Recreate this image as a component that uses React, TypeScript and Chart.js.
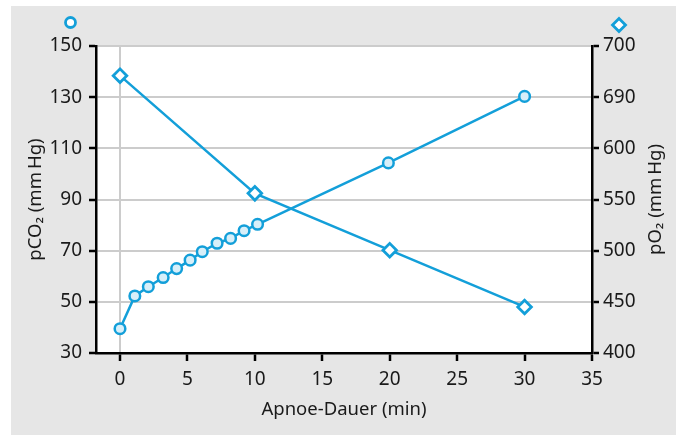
import { useEffect, useRef } from "react";
import { Chart, registerables } from "chart.js";

Chart.register(...registerables);

// Apnoe-Dauer (min) for pCO2 series
const timeCO2 = [0, 1.1, 2.1, 3.2, 4.2, 5.2, 6.1, 7.2, 8.2, 9.2, 10.2, 19.9, 30];
const pCO2 = [39.5, 52.3, 55.9, 59.5, 63.0, 66.3, 69.6, 72.9, 74.8, 77.8, 80.3, 104.3, 130.3];
// Apnoe-Dauer (min) for pO2 series
const timeO2 = [0, 10, 20, 30];
const pO2 = [671, 556, 500.5, 445];

const xTicks = [0, 5, 10, 15, 20, 25, 30, 35];
const leftTicks = [30, 50, 70, 90, 110, 130, 150];
const rightTicks = [400, 450, 500, 550, 600, 650, 700];
// labels as printed in the original figure
const rightTickLabels = ["400", "450", "500", "550", "600", "690", "700"];

const xTitle = "Apnoe-Dauer (min)";
const leftTitle = "pCO\u2082 (mm\u2009Hg)";
const rightTitle = "pO\u2082 (mm\u2009Hg)";

const BLUE = "#139fd9";
const FONT = "'Noto Sans', 'Open Sans', sans-serif";

export default function App() {
  const ref = useRef<HTMLCanvasElement | null>(null);

  useEffect(() => {
    if (!ref.current) return;
    const decor = {
      id: "decor",
      beforeDraw(chart: any) {
        const { ctx, chartArea: a, width, height } = chart;
        ctx.save();
        ctx.fillStyle = "#e6e6e6";
        ctx.fillRect(11, 6, width - 11, height - 6);
        ctx.fillStyle = "#ffffff";
        ctx.fillRect(a.left, a.top, a.right - a.left, a.bottom - a.top);
        ctx.restore();
      },
      afterDraw(chart: any) {
        const { ctx, chartArea: a } = chart;
        ctx.save();
        ctx.fillStyle = "#1a1a1a";
        ctx.font = `18.5px ${FONT}`;
        ctx.textAlign = "center";
        ctx.textBaseline = "middle";
        const cy = (a.top + a.bottom) / 2;
        const cx = (a.left + a.right) / 2;
        ctx.fillText(xTitle, cx, a.bottom + 57);
        ctx.save();
        ctx.translate(a.left - 60, cy);
        ctx.rotate(-Math.PI / 2);
        ctx.fillText(leftTitle, 0, 0);
        ctx.restore();
        ctx.save();
        ctx.translate(a.right + 64, cy);
        ctx.rotate(-Math.PI / 2);
        ctx.fillText(rightTitle, 0, 0);
        ctx.restore();
        // series symbols above the axes
        ctx.lineWidth = 2.8;
        ctx.strokeStyle = BLUE;
        ctx.fillStyle = "#ffffff";
        ctx.beginPath();
        ctx.arc(a.left - 25.5, a.top - 23.5, 5, 0, Math.PI * 2);
        ctx.fill();
        ctx.stroke();
        const dx = a.right + 27, dy = a.top - 21, r = 6.5;
        ctx.beginPath();
        ctx.moveTo(dx, dy - r);
        ctx.lineTo(dx + r, dy);
        ctx.lineTo(dx, dy + r);
        ctx.lineTo(dx - r, dy);
        ctx.closePath();
        ctx.fill();
        ctx.stroke();
        ctx.restore();
      },
    };

    const tickFont = { family: FONT, size: 19 };
    const chart = new Chart(ref.current, {
      type: "line",
      data: {
        datasets: [
          {
            label: "pCO2",
            data: timeCO2.map((t, i) => ({ x: t, y: pCO2[i] })),
            yAxisID: "y",
            borderColor: BLUE,
            borderWidth: 2.5,
            backgroundColor: "#d8eff9",
            pointBackgroundColor: "#d8eff9",
            pointBorderColor: BLUE,
            pointBorderWidth: 2.5,
            pointRadius: 5.3,
            pointStyle: "circle",
            tension: 0,
          },
          {
            label: "pO2",
            data: timeO2.map((t, i) => ({ x: t, y: pO2[i] })),
            yAxisID: "y2",
            borderColor: BLUE,
            borderWidth: 2.5,
            backgroundColor: "#ffffff",
            pointBackgroundColor: "#ffffff",
            pointBorderColor: BLUE,
            pointBorderWidth: 2.8,
            pointRadius: 6.8,
            pointStyle: "rectRot",
            tension: 0,
          },
        ],
      },
      options: {
        animation: false,
        responsive: false,
        layout: { padding: { top: 46, left: 0, right: 0, bottom: 0 } },
        plugins: {
          legend: { display: false },
          tooltip: { enabled: false },
          title: { display: false },
        },
        scales: {
          x: {
            type: "linear",
            min: -1.78,
            max: 35,
            afterBuildTicks: (s: any) => {
              s.ticks = xTicks.map((v) => ({ value: v }));
            },
            afterFit: (s: any) => {
              s.height = 82;
            },
            grid: {
              color: (c: any) => (c.tick && c.tick.value === 0 ? "#cccccc" : "rgba(0,0,0,0)"),
              lineWidth: 2,
              tickColor: "#000000",
              tickWidth: 2.5,
              tickLength: 8,
            },
            border: { color: "#000000", width: 2.5 },
            ticks: { font: tickFont, color: "#1a1a1a", padding: 7, maxRotation: 0 },
          },
          y: {
            type: "linear",
            position: "left",
            min: 30,
            max: 150,
            afterBuildTicks: (s: any) => {
              s.ticks = leftTicks.map((v) => ({ value: v }));
            },
            afterFit: (s: any) => {
              s.width = 96;
            },
            grid: {
              color: "#cccccc",
              lineWidth: 2,
              tickColor: "#000000",
              tickWidth: 2.5,
              tickLength: 7,
            },
            border: { color: "#000000", width: 2.5 },
            ticks: { font: tickFont, color: "#1a1a1a", padding: 7 },
          },
          y2: {
            type: "linear",
            position: "right",
            min: 400,
            max: 700,
            afterBuildTicks: (s: any) => {
              s.ticks = rightTicks.map((v) => ({ value: v }));
            },
            afterFit: (s: any) => {
              s.width = 84;
            },
            grid: {
              drawOnChartArea: false,
              lineWidth: 2,
              tickColor: "#000000",
              tickWidth: 2.5,
              tickLength: 7,
            },
            border: { color: "#000000", width: 2.5 },
            ticks: {
              font: tickFont,
              color: "#1a1a1a",
              padding: 4,
              callback: (v: any) => {
                const i = rightTicks.indexOf(Number(v));
                return i >= 0 ? rightTickLabels[i] : String(v);
              },
            },
          },
        },
      },
      plugins: [decor],
    });
    return () => chart.destroy();
  }, []);

  return (
    <div style={{ position: "fixed", left: 0, top: 0, width: 676, height: 435 }}>
      <canvas ref={ref} width={676} height={435} style={{ display: "block", width: 676, height: 435 }} />
    </div>
  );
}
